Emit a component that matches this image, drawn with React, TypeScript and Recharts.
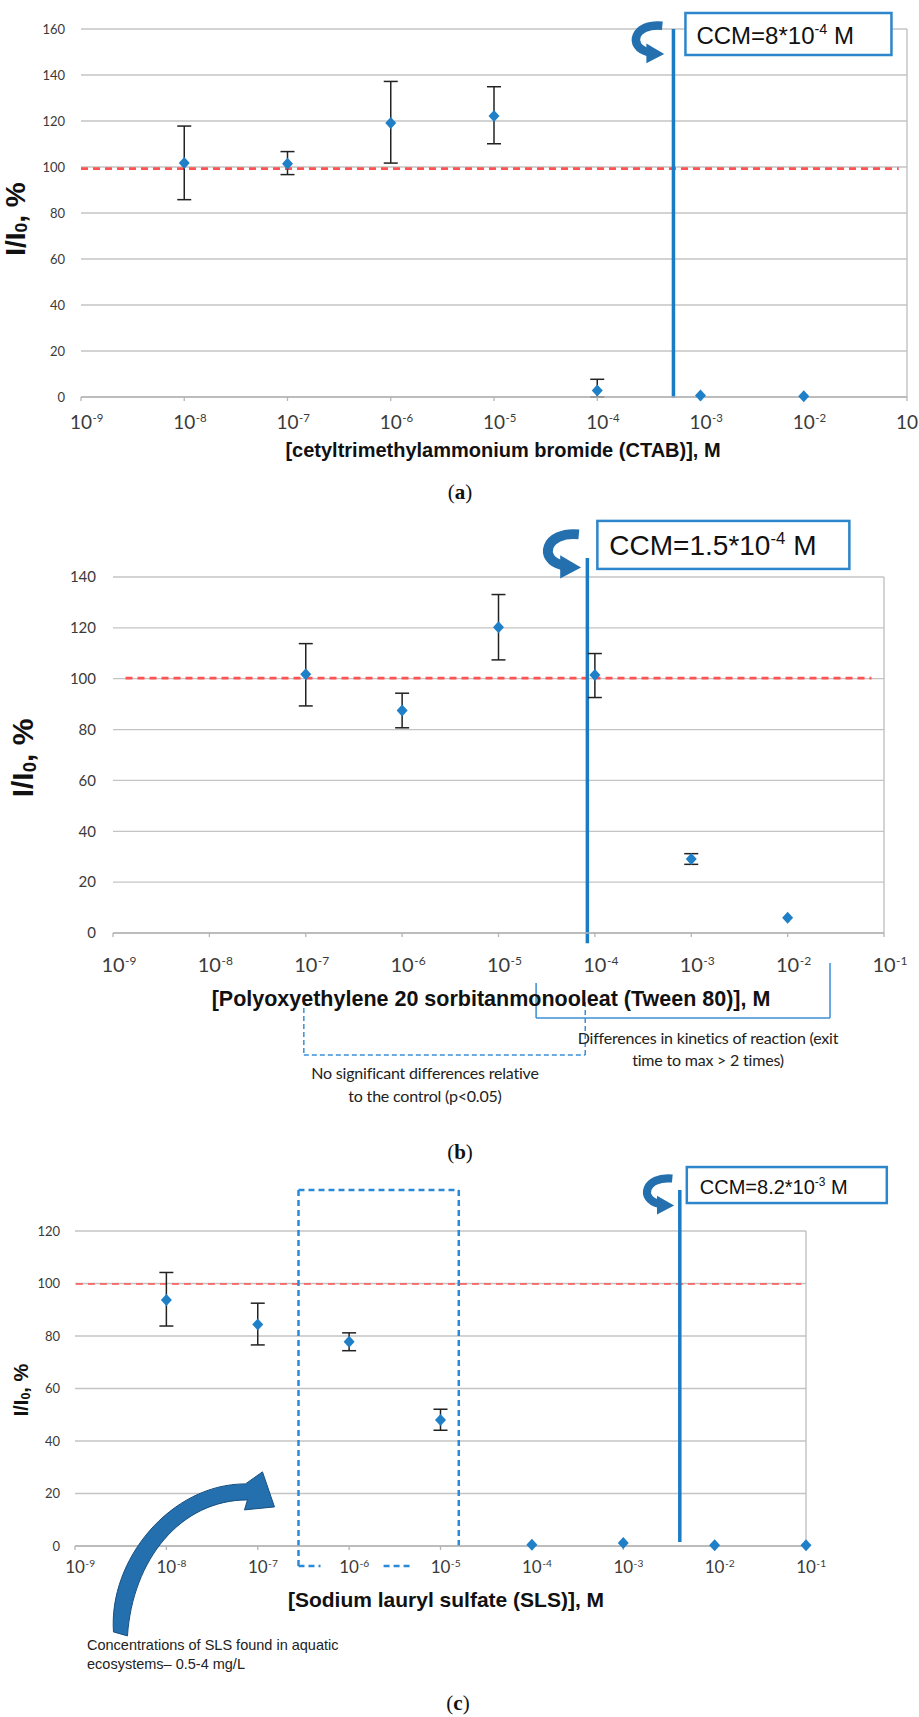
import React from "react";
import {
  ScatterChart,
  Scatter,
  XAxis,
  YAxis,
  CartesianGrid,
  ErrorBar,
  ReferenceLine,
  ReferenceDot,
} from "recharts";

// decades on the concentration axis, M
const decadeTicks = [1e-9, 1e-8, 1e-7, 1e-6, 1e-5, 1e-4, 1e-3, 1e-2, 1e-1];

// (a) CTAB
const ctabConc = [1e-8, 1e-7, 1e-6, 1e-5, 1e-4, 1e-3, 1e-2];
const ctabValue = [101.7, 101.4, 119.1, 122.2, 2.8, 0.6, 0.3];
const ctabErrLow = [15.9, 4.7, 17.4, 12.1, 2.8, 0, 0];
const ctabErrHigh = [16.1, 5.3, 18.1, 12.7, 4.9, 0, 0];
const ctabTicks = [0, 20, 40, 60, 80, 100, 120, 140, 160];
const ctabControl = 99.3;
const ctabCcm = Math.pow(10, -3.262);

// (b) Tween 80
const tweenConc = [1e-7, 1e-6, 1e-5, 1e-4, 1e-3, 1e-2];
const tweenValue = [101.8, 87.5, 120.2, 101.5, 29.1, 6.0];
const tweenErrLow = [12.5, 6.8, 12.8, 8.9, 2.1, 0];
const tweenErrHigh = [12.0, 6.8, 12.9, 8.4, 2.1, 0];
const tweenTicks = [0, 20, 40, 60, 80, 100, 120, 140];
const tweenControl = 100.2;
const tweenCcm = Math.pow(10, -4.078);

// (c) SLS
const slsConc = [1e-8, 1e-7, 1e-6, 1e-5, 1e-4, 1e-3, 1e-2, 1e-1];
const slsValue = [93.7, 84.4, 77.8, 48.0, 0.5, 1.1, 0.25, 0.25];
const slsErrLow = [9.9, 7.8, 3.4, 3.9, 0, 0, 0, 0];
const slsErrHigh = [10.5, 8.1, 3.4, 4.1, 0, 0, 0, 0];
const slsTicks = [0, 20, 40, 60, 80, 100, 120];
const slsControl = 99.8;
const slsCcm = Math.pow(10, -2.381);

// points without a measured spread get no error bar
const toPoints = (xs: number[], ys: number[], lo: number[], hi: number[]) =>
  xs.map((x, i) => ({
    x,
    y: ys[i],
    err: lo[i] || hi[i] ? [lo[i], hi[i]] : undefined,
  }));

const ctabData = toPoints(ctabConc, ctabValue, ctabErrLow, ctabErrHigh);
const tweenData = toPoints(tweenConc, tweenValue, tweenErrLow, tweenErrHigh);
const slsData = toPoints(slsConc, slsValue, slsErrLow, slsErrHigh);

const e = (p: number) => Math.pow(10, p);

const BLUE = "#1f80c8";
const LINE_BLUE = "#1a7cc4";
const ARROW = "#2470ae";
const GRID = "#c4c4c4";
const RED = "#ff5252";
const SANS = "'Liberation Sans', Arial, sans-serif";
const TICK_FONT = "Lato, 'Open Sans', sans-serif";

const Diamond = (props: any) => {
  const { cx, cy } = props;
  if (cx == null || cy == null) return null;
  return (
    <polygon
      points={`${cx},${cy - 6} ${cx + 5.5},${cy} ${cx},${cy + 6} ${cx - 5.5},${cy}`}
      fill={BLUE}
    />
  );
};

const PowerTick = (props: any) => {
  const { x, y, payload, size, drop } = props;
  const exp = Math.round(Math.log10(payload.value));
  const half = size * 0.58;
  const sup = size * 0.6;
  return (
    <g>
      <text x={x} y={y + drop} textAnchor="middle" fill="#3a3a3a" style={{ fontFamily: TICK_FONT, fontSize: size }}>
        10
      </text>
      <text x={x + half + 0.5} y={y + drop - size * 0.36} textAnchor="start" fill="#3a3a3a" style={{ fontFamily: TICK_FONT, fontSize: sup }}>
        {exp}
      </text>
    </g>
  );
};

type Note = {
  arrow: { dx: number; dy: number; s: number };
  box: { dx: number; dy: number; w: number; h: number };
  text: { dx: number; dy: number; size: number; main: string; sup: string; tail: string };
};

const CcmNote = ({ cx, cy, note }: { cx: number; cy: number; note: Note }) => {
  const { arrow, box, text } = note;
  return (
    <g>
      <g transform={`translate(${cx + arrow.dx},${cy + arrow.dy}) scale(${arrow.s})`}>
        <path d="M35 5 C4 2 -2 28 20 33" fill="none" stroke={ARROW} strokeWidth={9} />
        <polygon points="18,24 37,35 18,45" fill={ARROW} />
      </g>
      <rect x={cx + box.dx} y={cy + box.dy} width={box.w} height={box.h} fill="#fff" stroke="#2d86cb" strokeWidth={2.5} />
      <text x={cx + text.dx} y={cy + text.dy} fontSize={text.size} fontFamily={SANS} fill="#111">
        {text.main}
        <tspan dy={-text.size * 0.4} fontSize={text.size * 0.6}>{text.sup}</tspan>
        <tspan dy={text.size * 0.4}>{text.tail}</tspan>
      </text>
    </g>
  );
};

const ctabNote: Note = {
  arrow: { dx: -44, dy: -8, s: 0.94 },
  box: { dx: 12, dy: -16, w: 206, h: 42 },
  text: { dx: 23, dy: 15, size: 24, main: "CCM=8*10", sup: "-4", tail: " M" },
};
const tweenNote: Note = {
  arrow: { dx: -47, dy: -29, s: 1.1 },
  box: { dx: 10, dy: -37, w: 252, h: 48 },
  text: { dx: 22, dy: -3, size: 28, main: "CCM=1.5*10", sup: "-4", tail: " M" },
};
const slsNote: Note = {
  arrow: { dx: -39, dy: -16, s: 0.9 },
  box: { dx: 7, dy: -23, w: 200, h: 36 },
  text: { dx: 20, dy: 4, size: 20, main: "CCM=8.2*10", sup: "-3", tail: "  M" },
};

const BigArrow = (props: any) => {
  const { cx, cy } = props;
  return (
    <path
      transform={`translate(${cx},${cy})`}
      d="M-161 125 C-166 53 -104 -23 -29 -23 L-12 -35 L0 0 L-30 3 L-27 -7 C-94 -7 -142 53 -147 129 Z"
      fill={ARROW}
      stroke="#174f80"
      strokeWidth={1}
    />
  );
};

const seg = (x1: number, y1: number, x2: number, y2: number) => [
  { x: x1, y: y1 },
  { x: x2, y: y2 },
];

const xAxisProps = {
  dataKey: "x",
  type: "number" as const,
  scale: "log" as const,
  domain: [1e-9, 1e-1],
  ticks: decadeTicks,
  interval: 0 as const,
  height: 30,
  tickSize: 4,
  tickMargin: 3,
  axisLine: { stroke: "#b5b5b5", strokeWidth: 1.5 },
  tickLine: { stroke: "#b5b5b5", strokeWidth: 1.3 },
};

const abs = (left: number, top: number): React.CSSProperties => ({
  position: "absolute",
  left,
  top,
  transform: "translate(-50%, -50%)",
  whiteSpace: "nowrap",
  lineHeight: 1,
});

const YTitle = ({ x, y, size }: { x: number; y: number; size: number }) => (
  <div
    style={{
      ...abs(x, y),
      transform: "translate(-50%, -50%) rotate(-90deg)",
      fontFamily: SANS,
      fontWeight: "bold",
      fontSize: size,
      color: "#111",
    }}
  >
    I/I<sub style={{ fontSize: size * 0.62, verticalAlign: "-0.15em" }}>0</sub>, %
  </div>
);

const Caption = ({ x, y, letter }: { x: number; y: number; letter: string }) => (
  <div style={{ ...abs(x, y), fontFamily: "'Liberation Serif', 'DejaVu Serif', serif", fontSize: 21, color: "#111" }}>
    (<b>{letter}</b>)
  </div>
);

export default function App() {
  return (
    <div style={{ position: "absolute", left: 0, top: 0, width: 919, height: 1717, background: "#fff", overflow: "hidden" }}>
      {/* (a) CTAB */}
      <div style={{ position: "absolute", left: 0, top: 0 }}>
        <ScatterChart width={919} height={480} margin={{ top: 29, right: 12, bottom: 53, left: 0 }}>
          <CartesianGrid vertical={false} stroke={GRID} strokeWidth={1.3} />
          <XAxis {...xAxisProps} tick={(p: any) => <PowerTick {...p} size={19} drop={25} />} />
          <YAxis
            dataKey="y"
            type="number"
            domain={[0, 160]}
            ticks={ctabTicks}
            interval={0}
            width={81}
            axisLine={false}
            tickLine={false}
            tickSize={0}
            tickMargin={16}
            tick={{ fontSize: 13, fill: "#3a3a3a", fontFamily: TICK_FONT }}
          />
          <ReferenceLine x={1e-1} stroke="#bdbdbd" strokeWidth={1.3} />
          <ReferenceLine segment={seg(1e-9, ctabControl, e(-1.08), ctabControl)} stroke={RED} strokeWidth={2.8} strokeDasharray="7 5" />
          <ReferenceLine segment={seg(ctabCcm, -0.3, ctabCcm, 160)} stroke={LINE_BLUE} strokeWidth={3.5} ifOverflow="visible" />
          <Scatter data={ctabData} shape={Diamond} isAnimationActive={false}>
            <ErrorBar dataKey="err" direction="y" width={7} stroke="#222" strokeWidth={1.5} isAnimationActive={false} />
          </Scatter>
          <ReferenceDot x={ctabCcm} y={160} ifOverflow="visible" shape={(p: any) => <CcmNote cx={p.cx} cy={p.cy} note={ctabNote} />} />
        </ScatterChart>
      </div>
      <YTitle x={16} y={219} size={28} />
      <div style={{ ...abs(503, 450), fontFamily: SANS, fontWeight: "bold", fontSize: 20, color: "#111" }}>
        [cetyltrimethylammonium bromide (CTAB)], M
      </div>
      <Caption x={460} y={492} letter="a" />

      {/* (b) Tween 80 */}
      <div style={{ position: "absolute", left: 0, top: 500 }}>
        <ScatterChart width={919} height={600} margin={{ top: 77, right: 35, bottom: 137, left: 0 }}>
          <CartesianGrid vertical={false} stroke={GRID} strokeWidth={1.3} />
          <XAxis {...xAxisProps} tick={(p: any) => <PowerTick {...p} size={20} drop={32} />} />
          <YAxis
            dataKey="y"
            type="number"
            domain={[0, 140]}
            ticks={tweenTicks}
            interval={0}
            width={113}
            axisLine={false}
            tickLine={false}
            tickSize={0}
            tickMargin={17}
            tick={{ fontSize: 15, fill: "#3a3a3a", fontFamily: TICK_FONT }}
          />
          <ReferenceLine x={1e-1} stroke="#bdbdbd" strokeWidth={1.3} />
          <ReferenceLine segment={seg(e(-8.87), tweenControl, e(-1.13), tweenControl)} stroke={RED} strokeWidth={2.8} strokeDasharray="7 5" />
          <ReferenceLine segment={seg(tweenCcm, -4, tweenCcm, 147.5)} stroke={LINE_BLUE} strokeWidth={3.5} ifOverflow="visible" />
          {/* brackets under the axis */}
          <ReferenceLine segment={seg(e(-7.02), -26.3, e(-7.02), -48)} stroke="#3a8fd6" strokeWidth={1.5} strokeDasharray="5 3" ifOverflow="visible" />
          <ReferenceLine segment={seg(e(-7.02), -48, e(-4.1), -48)} stroke="#3a8fd6" strokeWidth={1.5} strokeDasharray="5 3" ifOverflow="visible" />
          <ReferenceLine segment={seg(e(-4.1), -48, e(-4.1), -26.5)} stroke="#3a8fd6" strokeWidth={1.5} strokeDasharray="5 3" ifOverflow="visible" />
          <ReferenceLine segment={seg(e(-4.61), -19.7, e(-4.61), -33.4)} stroke="#3a8fd6" strokeWidth={1.5} ifOverflow="visible" />
          <ReferenceLine segment={seg(e(-4.61), -33.4, e(-1.56), -33.4)} stroke="#3a8fd6" strokeWidth={1.5} ifOverflow="visible" />
          <ReferenceLine segment={seg(e(-1.56), -33.4, e(-1.56), -11.8)} stroke="#3a8fd6" strokeWidth={1.5} ifOverflow="visible" />
          <Scatter data={tweenData} shape={Diamond} isAnimationActive={false}>
            <ErrorBar dataKey="err" direction="y" width={7} stroke="#222" strokeWidth={1.5} isAnimationActive={false} />
          </Scatter>
          <ReferenceDot x={tweenCcm} y={147.5} ifOverflow="visible" shape={(p: any) => <CcmNote cx={p.cx} cy={p.cy} note={tweenNote} />} />
        </ScatterChart>
      </div>
      <YTitle x={24} y={758} size={30} />
      <div style={{ ...abs(491, 1000), fontFamily: SANS, fontWeight: "bold", fontSize: 21.5, color: "#111" }}>
        [Polyoxyethylene 20 sorbitanmonooleat (Tween 80)], M
      </div>
      <div style={{ ...abs(425, 1073), fontFamily: TICK_FONT, fontSize: 16, letterSpacing: -0.2, color: "#222" }}>
        No significant differences relative
      </div>
      <div style={{ ...abs(425, 1096), fontFamily: TICK_FONT, fontSize: 16, letterSpacing: -0.2, color: "#222" }}>
        to the control (p&lt;0.05)
      </div>
      <div style={{ ...abs(708, 1038), fontFamily: TICK_FONT, fontSize: 16, letterSpacing: -0.2, color: "#222" }}>
        Differences in kinetics of reaction (exit
      </div>
      <div style={{ ...abs(708, 1060), fontFamily: TICK_FONT, fontSize: 16, letterSpacing: -0.2, color: "#222" }}>
        time to max &gt; 2 times)
      </div>
      <Caption x={460} y={1152} letter="b" />

      {/* (c) SLS */}
      <div style={{ position: "absolute", left: 0, top: 1150 }}>
        <ScatterChart width={919} height={567} margin={{ top: 81, right: 113, bottom: 141, left: 0 }}>
          <CartesianGrid vertical={false} stroke={GRID} strokeWidth={1.3} />
          <XAxis {...xAxisProps} tick={(p: any) => <PowerTick {...p} size={17} drop={20} />} />
          <YAxis
            dataKey="y"
            type="number"
            domain={[0, 120]}
            ticks={slsTicks}
            interval={0}
            width={75}
            axisLine={false}
            tickLine={false}
            tickSize={0}
            tickMargin={15}
            tick={{ fontSize: 13, fill: "#3a3a3a", fontFamily: TICK_FONT }}
          />
          <ReferenceLine x={1e-1} stroke="#bdbdbd" strokeWidth={1.3} />
          <ReferenceLine segment={seg(e(-8.99), slsControl, e(-1.05), slsControl)} stroke={RED} strokeWidth={1.6} strokeDasharray="7 5" />
          {/* environmental concentration window */}
          <ReferenceLine segment={seg(e(-6.554), -7.6, e(-6.554), 135.6)} stroke="#2a8ad8" strokeWidth={2.5} strokeDasharray="6 4" ifOverflow="visible" />
          <ReferenceLine segment={seg(e(-6.554), 135.6, e(-4.8), 135.6)} stroke="#2a8ad8" strokeWidth={2.5} strokeDasharray="6 4" ifOverflow="visible" />
          <ReferenceLine segment={seg(e(-4.8), 135.6, e(-4.8), -0.8)} stroke="#2a8ad8" strokeWidth={2.5} strokeDasharray="6 4" ifOverflow="visible" />
          <ReferenceLine segment={seg(e(-6.554), -7.6, e(-6.313), -7.6)} stroke="#2a8ad8" strokeWidth={2.5} strokeDasharray="6 4" ifOverflow="visible" />
          <ReferenceLine segment={seg(e(-5.623), -7.6, e(-5.305), -7.6)} stroke="#2a8ad8" strokeWidth={2.5} strokeDasharray="6 4" ifOverflow="visible" />
          <ReferenceLine segment={seg(slsCcm, 1.5, slsCcm, 135.6)} stroke={LINE_BLUE} strokeWidth={3.5} ifOverflow="visible" />
          <Scatter data={slsData} shape={Diamond} isAnimationActive={false}>
            <ErrorBar dataKey="err" direction="y" width={7} stroke="#222" strokeWidth={1.5} isAnimationActive={false} />
          </Scatter>
          <ReferenceDot x={slsCcm} y={135.6} ifOverflow="visible" shape={(p: any) => <CcmNote cx={p.cx} cy={p.cy} note={slsNote} />} />
          <ReferenceDot x={e(-6.817)} y={14.9} ifOverflow="visible" shape={BigArrow} />
        </ScatterChart>
      </div>
      <YTitle x={22} y={1390} size={20} />
      <div style={{ ...abs(446, 1599), fontFamily: SANS, fontWeight: "bold", fontSize: 21, color: "#111" }}>
        [Sodium lauryl sulfate (SLS)], M
      </div>
      <div style={{ position: "absolute", left: 87, top: 1636, fontFamily: SANS, fontSize: 14.5, lineHeight: "19px", color: "#222" }}>
        Concentrations of SLS found in aquatic
        <br />
        ecosystems– 0.5-4 mg/L
      </div>
      <Caption x={458} y={1703} letter="c" />
    </div>
  );
}
